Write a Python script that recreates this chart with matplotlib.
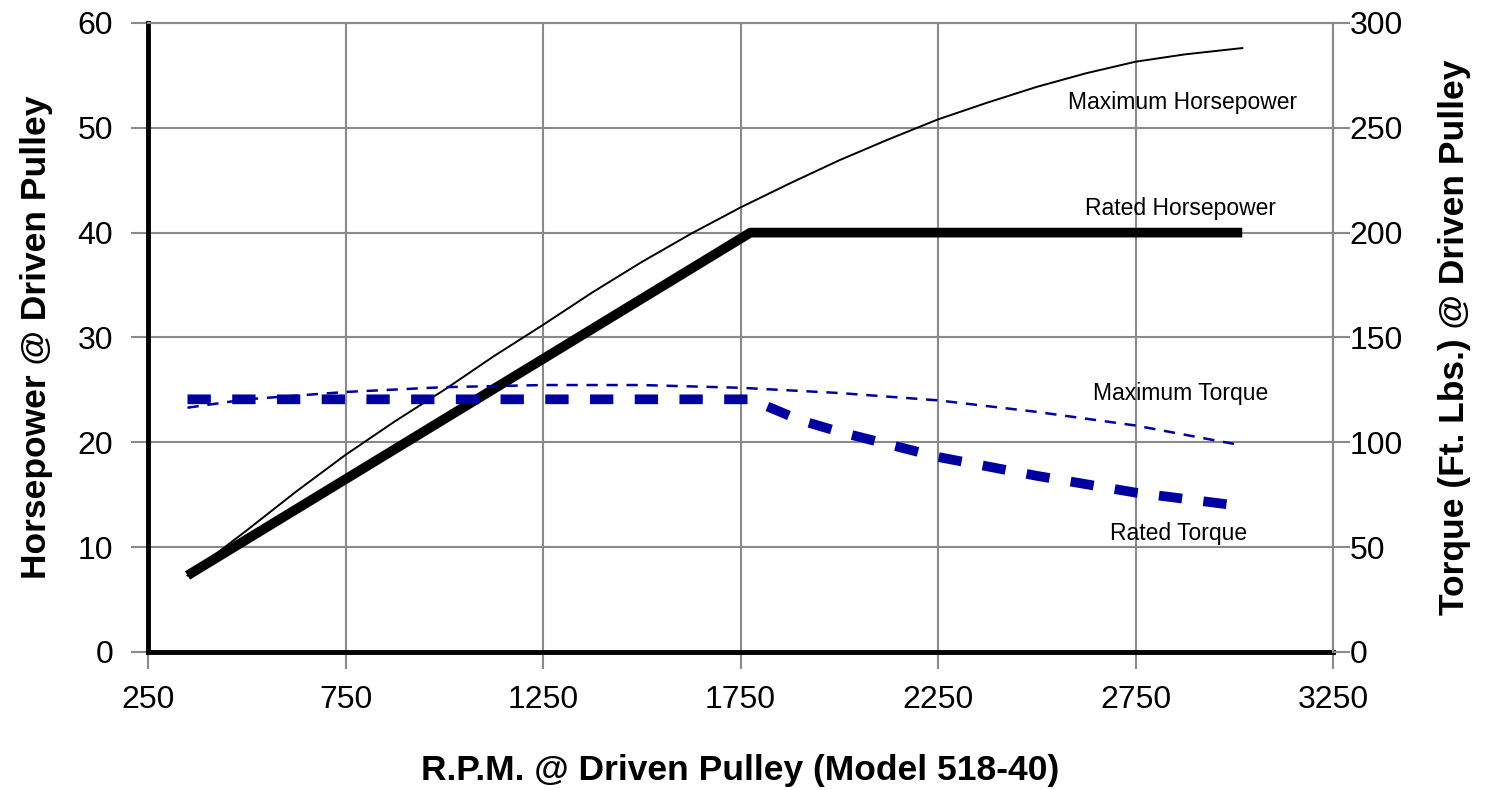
import matplotlib.pyplot as plt

plt.rcParams["font.family"] = ["Liberation Sans", "DejaVu Sans"]

# horsepower curves (left axis)
max_hp_rpm = [350, 500, 625, 750, 875, 1000, 1125, 1250, 1375, 1500, 1625, 1750,
              1875, 2000, 2125, 2250, 2375, 2500, 2625, 2750, 2875, 3020]
max_hp = [7.3, 11.6, 15.3, 18.8, 22.0, 25.0, 28.2, 31.2, 34.3, 37.2, 39.9, 42.4,
          44.7, 46.9, 48.9, 50.8, 52.4, 53.9, 55.2, 56.3, 57.0, 57.6]
rated_hp_rpm = [350, 1775, 3020]
rated_hp = [7.3, 40, 40]

# torque curves (right axis, ft. lbs.)
max_tq_rpm = [350, 500, 750, 1000, 1250, 1500, 1750, 2000, 2250, 2500, 2750, 3020]
max_tq = [116.5, 120.5, 124, 126.3, 127.3, 127.3, 126, 123.5, 120, 114.5, 108, 98.5]
rated_tq_rpm = [350, 1775, 1900, 2000, 2250, 2500, 2750, 3000]
rated_tq = [120.5, 120.5, 110.6, 105, 93, 84, 76, 70]

fig = plt.figure(figsize=(14.86, 7.9), dpi=100)
ax = fig.add_axes([0.0996, 0.1747, 0.7975, 0.7963])
ax2 = ax.twinx()

grid_c = "#8a8a8a"
blue = "#0000a0"

ax.plot(max_hp_rpm, max_hp, color="black", lw=1.4, zorder=3)
ax.plot(rated_hp_rpm, rated_hp, color="black", lw=7, solid_capstyle="butt", zorder=3)
ax2.plot(max_tq_rpm, max_tq, color=blue, lw=1.8, dashes=(4.5, 3.5))
ax2.plot(rated_tq_rpm, rated_tq, color=blue, lw=7, dashes=(2.4, 2.2))

ax.set_xlim(250, 3250)
ax.set_ylim(0, 60)
ax2.set_ylim(0, 300)
ax.set_xticks(range(250, 3251, 500))
ax.set_yticks(range(0, 61, 10))
ax2.set_yticks(range(0, 301, 50))

ax.grid(True, color=grid_c, lw=1.5)
ax.set_axisbelow(True)
for s in ["top", "right"]:
    ax.spines[s].set_color(grid_c)
    ax.spines[s].set_linewidth(1.5)
for s in ["left", "bottom"]:
    ax.spines[s].set_color("black")
    ax.spines[s].set_linewidth(3.5)
for s in ax2.spines.values():
    s.set_visible(False)
ax2.spines["right"].set_visible(True)
ax2.spines["right"].set_color(grid_c)
ax2.spines["right"].set_linewidth(1.5)

ax.tick_params(axis="both", labelsize=23, color=grid_c, width=1.5, length=12)
ax.tick_params(axis="x", pad=12)
ax.tick_params(axis="y", pad=13)
ax2.tick_params(axis="y", labelsize=23, color=grid_c, width=1.5, length=12, pad=0)

ax.set_xlabel("R.P.M. @ Driven Pulley (Model 518-40)", fontsize=25.5, fontweight="bold", labelpad=28)
ax.set_ylabel("Horsepower @ Driven Pulley", fontsize=25.5, fontweight="bold", labelpad=18)
ax2.set_ylabel("Torque (Ft. Lbs.) @ Driven Pulley", fontsize=25.5, fontweight="bold", labelpad=25)

ax.text(2868, 52.4, "Maximum Horsepower", fontsize=16.5, ha="center", va="center")
ax.text(2863, 42.3, "Rated Horsepower", fontsize=16.5, ha="center", va="center")
ax.text(2865, 24.7, "Maximum Torque", fontsize=16.5, ha="center", va="center")
ax.text(2860, 11.3, "Rated Torque", fontsize=16.5, ha="center", va="center")

fig.savefig("out.png", dpi=100)
